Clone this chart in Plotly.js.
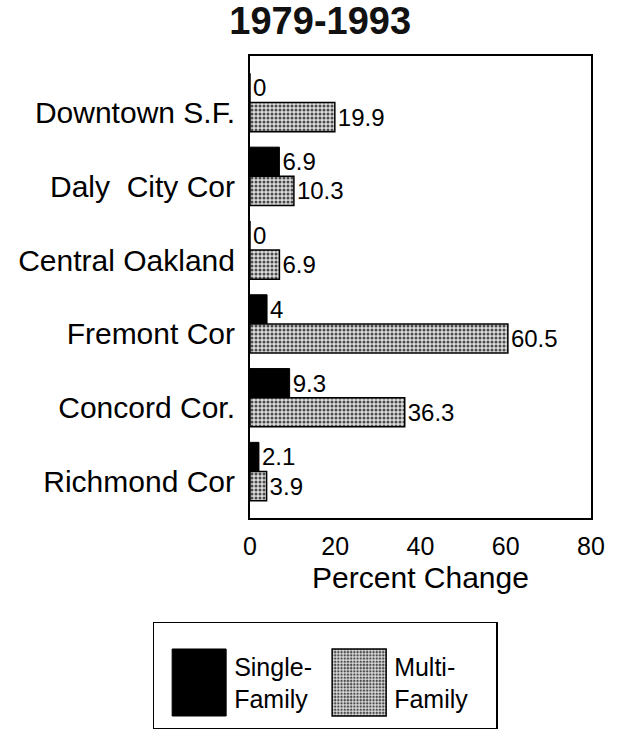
<!DOCTYPE html>
<html>
<head>
<meta charset="utf-8">
<script src="https://cdn.plot.ly/plotly-3.0.1.min.js"></script>
<style>html,body{margin:0;padding:0;background:#fff;}#chart{width:617px;height:729px;}</style>
</head>
<body>
<div id="chart"></div>
<script>
const categories = ["Downtown S.F.", "Daly  City Cor", "Central Oakland", "Fremont Cor", "Concord Cor.", "Richmond Cor"];
const singleFamily = [0, 6.9, 0, 4, 9.3, 2.1];
const multiFamily = [19.9, 10.3, 6.9, 60.5, 36.3, 3.9];
const seriesNames = ["Single-<br>Family", "Multi-<br>Family"];
const xTicks = [0, 20, 40, 60, 80];

const FONT = "Liberation Sans, Arial, sans-serif";

const traces = [
  {
    type: "bar", orientation: "h",
    name: seriesNames[0],
    y: categories, x: singleFamily,
    marker: {color: "#000000", line: {color: "#000000", width: 1}},
    texttemplate: "%{x}", textposition: "outside", constraintext: "none", cliponaxis: false,
    textfont: {family: FONT, size: 24, color: "#000"}
  },
  {
    type: "bar", orientation: "h",
    name: seriesNames[1],
    y: categories, x: multiFamily,
    marker: {color: "#d4d4d4", line: {color: "#000000", width: 1.5},
      pattern: {shape: ".", fgcolor: "#4a4a4a", bgcolor: "#dcdcdc", size: 4, solidity: 0.45}},
    texttemplate: "%{x}", textposition: "outside", constraintext: "none", cliponaxis: false,
    textfont: {family: FONT, size: 24, color: "#000"}
  }
];

const layout = {
  width: 617, height: 729,
  paper_bgcolor: "#fff", plot_bgcolor: "#fff",
  margin: {l: 250, r: 26, t: 56, b: 211},
  font: {family: FONT, color: "#000"},
  title: {text: "<b>1979-1993</b>", font: {family: FONT, size: 38, color: "#111"},
    xref: "container", yref: "container", x: 0.519, y: 0.971, xanchor: "center", yanchor: "middle"},
  barmode: "group", bargap: 0.21, bargroupgap: 0,
  xaxis: {
    range: [0, 80], tickvals: xTicks, ticks: "", showgrid: false, zeroline: false,
    showline: true, mirror: true, linecolor: "#000", linewidth: 2,
    tickfont: {family: FONT, size: 25, color: "#000"}, ticklabelstandoff: 5,
    title: {text: "Percent Change", font: {family: FONT, size: 30, color: "#000"}, standoff: 8}
  },
  yaxis: {
    type: "category", range: [5.63, -0.63], ticks: "", showgrid: false, zeroline: false,
    showline: true, mirror: true, linecolor: "#000", linewidth: 2,
    tickfont: {family: FONT, size: 30, color: "#000"}, ticklabelstandoff: 7, ticklabelshift: -10
  },
  showlegend: true,
  legend: {
    orientation: "h", x: -0.2855, y: -0.2251, xanchor: "left", yanchor: "top",
    bordercolor: "#000", borderwidth: 1.5, bgcolor: "#fff",
    font: {family: FONT, size: 25, color: "#000"}, itemwidth: 70,
    entrywidth: 75, entrywidthmode: "pixels", traceorder: "normal"
  }
};

Plotly.newPlot("chart", traces, layout, {staticPlot: true}).then(function (gd) {
  const leg = gd.querySelector(".legend");
  if (!leg) return;
  const DY = 20, DH = 27, DW = 22;
  leg.querySelectorAll(".traces").forEach(function (t) {
    const tr = t.getAttribute("transform") || "";
    const m = tr.match(/translate\(\s*([-\d.]+)[ ,]+([-\d.]+)\s*\)/);
    if (m) t.setAttribute("transform", "translate(" + m[1] + "," + (parseFloat(m[2]) + DY) + ")");
    const p = t.querySelector(".legendpoints path");
    if (p) {
      const ptr = p.getAttribute("transform") || "";
      p.setAttribute("transform", ptr + " translate(5,0)");
      p.setAttribute("d", "M27,33.5H-27V-33.5H27Z");
    }
  });
  const bg = leg.querySelector("rect.bg");
  if (bg) {
    bg.setAttribute("height", parseFloat(bg.getAttribute("height")) + DH);
    bg.setAttribute("width", parseFloat(bg.getAttribute("width")) + DW);
  }
  const sb = leg.querySelector(".scrollbox");
  if (sb) {
    const cp = sb.getAttribute("clip-path") || "";
    const m2 = cp.match(/#([^)'"]+)/);
    if (m2) {
      const el = document.getElementById(m2[1]);
      const r = el && el.querySelector("rect");
      if (r) {
        r.setAttribute("height", parseFloat(r.getAttribute("height")) + DH + DY);
        r.setAttribute("width", parseFloat(r.getAttribute("width")) + DW);
      }
    }
  }
});
</script>
</body>
</html>
